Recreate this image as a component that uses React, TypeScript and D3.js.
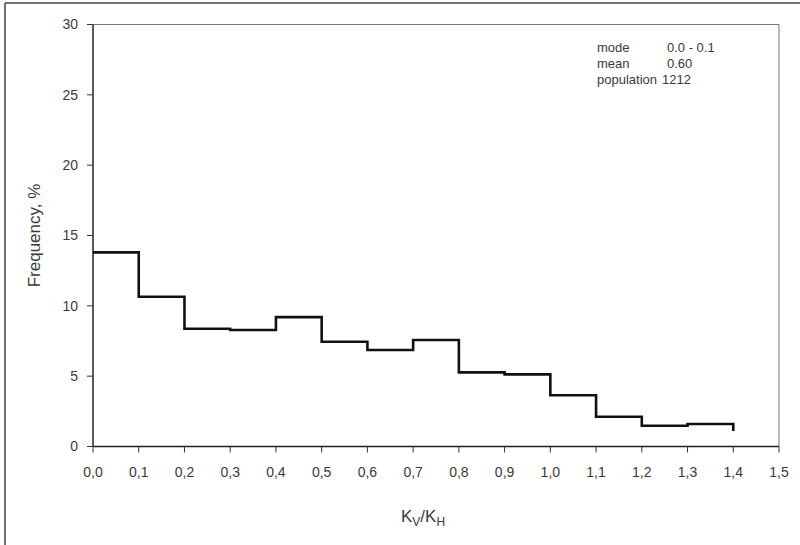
import React from "react";
import * as d3 from "d3";

const binStarts = [0.0, 0.1, 0.2, 0.3, 0.4, 0.5, 0.6, 0.7, 0.8, 0.9, 1.0, 1.1, 1.2, 1.3];
const frequencies = [13.8, 10.65, 8.37, 8.28, 9.2, 7.45, 6.86, 7.57, 5.27, 5.13, 3.64, 2.12, 1.48, 1.6];
const endValue = 1.1;
const binWidth = 0.1;
const xTicks = [0, 0.1, 0.2, 0.3, 0.4, 0.5, 0.6, 0.7, 0.8, 0.9, 1.0, 1.1, 1.2, 1.3, 1.4, 1.5];
const yTicks = [0, 5, 10, 15, 20, 25, 30];
const statLabels = ["mode", "mean", "population"];
const statValues = ["0.0 - 0.1", "0.60", "1212"];

const W = 800;
const H = 545;
const left = 93;
const right = 779;
const top = 24.5;
const bottom = 446.5;

export default function App() {
  const x = d3.scaleLinear().domain([0, 1.5]).range([left, right]);
  const y = d3.scaleLinear().domain([0, 30]).range([bottom, top]);

  const pts: [number, number][] = [];
  binStarts.forEach((b, i) => {
    pts.push([b, frequencies[i]]);
  });
  pts.push([binStarts[binStarts.length - 1] + binWidth, frequencies[frequencies.length - 1]]);
  const line = d3
    .line<[number, number]>()
    .x((d) => x(d[0]))
    .y((d) => y(d[1]))
    .curve(d3.curveStepAfter);
  let path = line(pts) || "";
  const lastX = binStarts[binStarts.length - 1] + binWidth;
  path += `L${x(lastX)},${y(endValue)}`;

  const fmt = (v: number) => v.toFixed(1).replace(".", ",");
  const font = "'Liberation Sans', Arial, sans-serif";
  const textColor = "#3a3a3a";

  return (
    <svg
      width={W}
      height={H}
      style={{ position: "absolute", left: 0, top: 0, background: "#fff" }}
      fontFamily={font}
    >
      <rect x={0} y={0} width={W} height={H} fill="#fff" />
      {/* outer frame (left & top visible) */}
      <line x1={5} y1={3} x2={W} y2={3} stroke="#444" strokeWidth={1.5} />
      <line x1={5} y1={3} x2={5} y2={H} stroke="#444" strokeWidth={1.5} />

      {/* plot box top/right */}
      <line x1={left} y1={top} x2={right} y2={top} stroke="#777" strokeWidth={1} />
      <line x1={right} y1={top} x2={right} y2={bottom} stroke="#777" strokeWidth={1} />

      {/* axes */}
      <line x1={left} y1={top} x2={left} y2={bottom} stroke="#222" strokeWidth={1.5} />
      <line x1={left} y1={bottom} x2={right} y2={bottom} stroke="#222" strokeWidth={1.5} />

      {yTicks.map((t) => (
        <g key={"y" + t}>
          <line x1={left - 6} x2={left} y1={y(t)} y2={y(t)} stroke="#333" strokeWidth={1} />
          <text
            x={left - 15}
            y={y(t)}
            dy="0.35em"
            textAnchor="end"
            fontSize={14}
            fill={textColor}
          >
            {t}
          </text>
        </g>
      ))}
      {xTicks.map((t) => (
        <g key={"x" + t}>
          <line x1={x(t)} x2={x(t)} y1={bottom} y2={bottom + 6} stroke="#333" strokeWidth={1} />
          <text
            x={x(t)}
            y={bottom + 26}
            dy="0.35em"
            textAnchor="middle"
            fontSize={14}
            fill={textColor}
          >
            {fmt(t)}
          </text>
        </g>
      ))}

      <path d={path} fill="none" stroke="#111" strokeWidth={2.6} strokeLinejoin="miter" />

      {/* axis titles */}
      <text
        transform={`translate(34,${(top + bottom) / 2}) rotate(-90)`}
        textAnchor="middle"
        dy="0.35em"
        fontSize={17}
        fill={textColor}
      >
        Frequency, %
      </text>
      <text x={423} y={522} textAnchor="middle" fontSize={17} fill={textColor}>
        K<tspan fontSize={12} dy={4}>V</tspan>
        <tspan dy={-4}>/K</tspan>
        <tspan fontSize={12} dy={4}>H</tspan>
      </text>

      {/* stats box */}
      {statLabels.map((s, i) => (
        <g key={s}>
          <text x={597} y={52 + i * 16} fontSize={13} fill={textColor}>
            {s}
          </text>
          <text x={i === 2 ? 662 : 667} y={52 + i * 16} fontSize={13} fill={textColor}>
            {statValues[i]}
          </text>
        </g>
      ))}
    </svg>
  );
}
